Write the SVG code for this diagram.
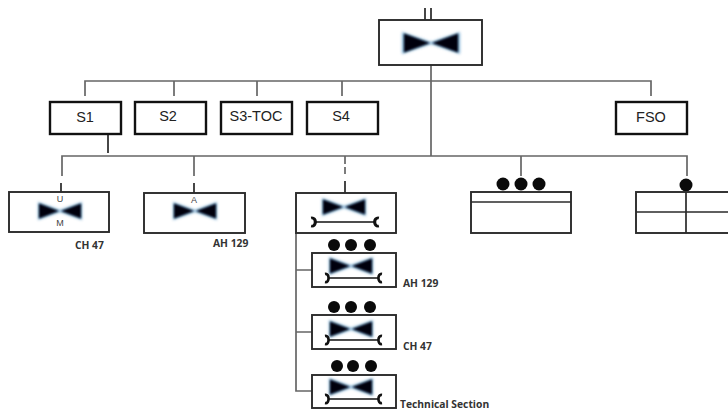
<svg xmlns="http://www.w3.org/2000/svg" width="728" height="412" viewBox="0 0 728 412">
<style>
.box{fill:#fff;stroke:#2b2b2b;stroke-width:1.9}
.tbox{fill:#fff;stroke:#111;stroke-width:2.4}
.ln{fill:none;stroke:#2b2b2b;stroke-width:1.7}
.con{fill:none;stroke:#666;stroke-width:1.7}
.dk{fill:none;stroke:#333;stroke-width:1.8}
.dot{fill:#0a0a0a}
.t{font-family:"Liberation Sans",Arial,sans-serif;font-size:14.5px;fill:#222;text-anchor:middle}
.s{font-family:"Liberation Sans",Arial,sans-serif;font-size:9px;fill:#444;text-anchor:middle}
.b{font-family:"Open Sans","Liberation Sans",sans-serif;font-size:10.300px;font-weight:bold;fill:#333}
.glow{fill:#5f9ccc;filter:url(#g1);opacity:.8}
.core{fill:#04060f;filter:url(#g2)}
.wr{fill:none;stroke:#111;stroke-width:1.6}
.end{fill:none;stroke:#111;stroke-width:2.8}
</style>
<defs>
<filter id="g1" x="-30%" y="-30%" width="160%" height="160%"><feGaussianBlur stdDeviation="1.5"/></filter>
<filter id="g2" x="-10%" y="-15%" width="120%" height="130%"><feGaussianBlur stdDeviation="0.8"/></filter>
<g id="bow">
<path class="glow" d="M-29-11L0-1 29-11V11L0 1-29 11Z"/>
<path class="core" d="M-27-9.500L-1 0-27 9.500ZM27-9.500L1 0 27 9.500Z"/>
</g>
<g id="bowS">
<path class="glow" d="M-22-9L0-1 22-9V9L0 1-22 9Z"/>
<path class="core" d="M-21-7.500L-1 0-21 7.500ZM21-7.500L1 0 21 7.500Z"/>
</g>
<g id="wrench">
<path class="wr" d="M-26 0H26"/>
<path class="end" d="M-30-4C-25-5-25 5-30 4M30-4C25-5 25 5 30 4"/>
</g>
</defs>
<rect width="728" height="412" fill="#fff"/>
<g id="connectors">
<path class="dk" d="M425 8V20M431 8V20"/>
<path class="con" d="M431 65V156M85 96V81H651V96M174 81V96M257 81V96M342 81V96"/>
<path class="dk" d="M108 134V153"/>
<path class="con" d="M62 176V156H687V176M194 156V176M345 156V164M345 167V174M521 156V176"/>
<path class="dk" d="M61 183V192M194 183V193M345 181V193"/>
<path class="con" d="M296 233V391H312M296 270H312M296 332H312"/>
</g>
<g id="top"><rect class="box" x="379" y="20" width="103" height="45"/><use href="#bow" x="431" y="43"/></g>
<g id="s1"><rect class="tbox" x="50" y="102" width="71" height="32"/><text class="t" x="85" y="122">S1</text></g>
<g id="s2"><rect class="tbox" x="135" y="102" width="71" height="32"/><text class="t" x="168" y="121">S2</text></g>
<g id="s3"><rect class="tbox" x="221" y="102" width="71" height="32"/><text class="t" x="256" y="121">S3-TOC</text></g>
<g id="s4"><rect class="tbox" x="307" y="102" width="71" height="32"/><text class="t" x="341" y="121">S4</text></g>
<g id="fso"><rect class="tbox" x="616" y="102" width="71" height="32"/><text class="t" x="651" y="122">FSO</text></g>
<g id="ch47"><rect class="box" x="9" y="192" width="100" height="40"/><use href="#bowS" x="60" y="211"/><text class="s" x="60" y="202">U</text><text class="s" x="60" y="226">M</text><text class="b" x="75" y="249">CH 47</text></g>
<g id="ah129"><rect class="box" x="144" y="193" width="101" height="40"/><use href="#bowS" x="195" y="211"/><text class="s" x="194" y="203">A</text><text class="b" x="213" y="247">AH 129</text></g>
<g id="tech"><rect class="box" x="296" y="193" width="100" height="40"/><use href="#bowS" x="344" y="207"/><use href="#wrench" transform="translate(345 222) scale(1.13 1)"/></g>
<g id="n4"><circle class="dot" cx="503" cy="184" r="6.500"/><circle class="dot" cx="521" cy="184" r="6.500"/><circle class="dot" cx="539" cy="184" r="6.500"/><rect class="box" x="471" y="192" width="100" height="41"/><path class="ln" d="M471 202H571"/></g>
<g id="n5"><circle class="dot" cx="686" cy="185" r="6.500"/><rect class="box" x="636" y="192" width="100" height="41"/><path class="ln" d="M636 212H728M686 192V233"/></g>
<g id="sub1"><circle class="dot" cx="334" cy="245" r="6"/><circle class="dot" cx="351" cy="245" r="6"/><circle class="dot" cx="370" cy="245" r="6"/><rect class="box" x="312" y="253" width="84" height="34"/><use href="#bowS" x="351" y="266"/><use href="#wrench" transform="translate(353.500 278) scale(.95 1)"/><text class="b" x="403" y="287">AH 129</text></g>
<g id="sub2"><circle class="dot" cx="334" cy="307" r="6"/><circle class="dot" cx="351" cy="307" r="6"/><circle class="dot" cx="370" cy="307" r="6"/><rect class="box" x="312" y="315" width="84" height="34"/><use href="#bowS" x="351" y="329"/><use href="#wrench" transform="translate(353.500 340) scale(.95 1)"/><text class="b" x="403" y="350">CH 47</text></g>
<g id="sub3"><circle class="dot" cx="337" cy="366" r="6"/><circle class="dot" cx="353" cy="366" r="6"/><circle class="dot" cx="371" cy="366" r="6"/><rect class="box" x="312" y="375" width="84" height="33"/><use href="#bowS" x="351" y="387"/><use href="#wrench" transform="translate(353.500 399) scale(.95 1)"/><text class="b" x="400" y="408">Technical Section</text></g>
</svg>
